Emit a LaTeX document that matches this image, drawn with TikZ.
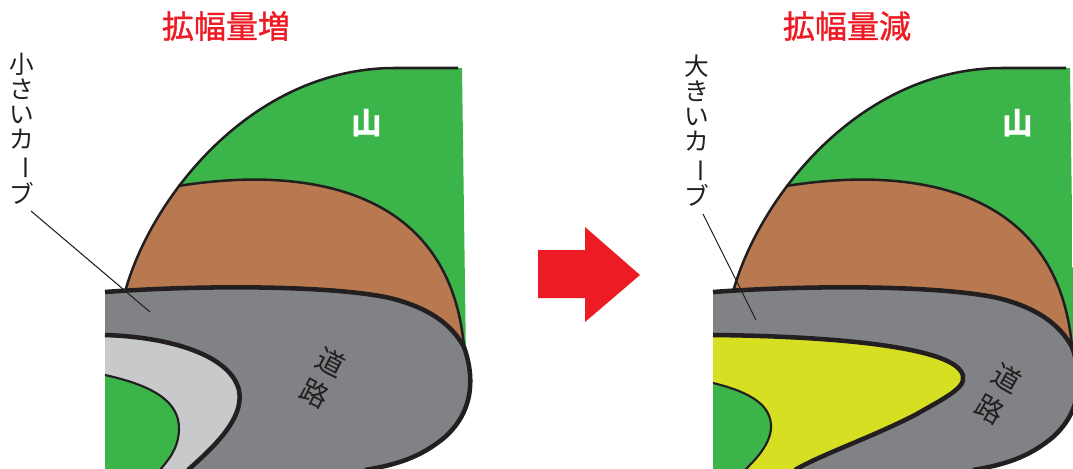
\documentclass[tikz,border=0pt]{standalone}
\usepackage{fontspec}
\usepackage{graphicx}
\newfontfamily\jp{Noto Sans CJK JP}
\newfontfamily\jpmid[FakeBold=1.1]{Noto Sans CJK JP}
\definecolor{mtgreen}{HTML}{3BB54A}
\definecolor{soil}{HTML}{B87950}
\definecolor{asphalt}{HTML}{808285}
\definecolor{shoulder}{HTML}{C8C9CB}
\definecolor{widen}{HTML}{D7DF23}
\definecolor{alert}{HTML}{ED1C24}
\definecolor{ink}{HTML}{231F20}

\tikzset{
  edge/.style={draw=ink, line width=1.9pt},
  roadedge/.style={draw=ink, line width=3.4pt},
  thinedge/.style={draw=ink, line width=1.6pt},
  leader/.style={draw=ink, line width=0.8pt},
  heading/.style={text=alert, inner sep=0pt, font=\jpmid\fontsize{24}{24}\selectfont},
  vlabel/.style={text=ink, align=center, inner sep=0pt, font=\jp\fontsize{18.5}{18.75}\selectfont},
  roadchar/.style={text=ink, inner sep=0pt, font=\jp\fontsize{21}{21}\selectfont},
  peak/.style={text=white, inner sep=0pt, font=\jp\bfseries\fontsize{23}{23}\selectfont},
}

% hill, cut slope and the outer road band shared by both panels
\newcommand{\hillroad}{%
  \begin{scope}
    \clip (125,292) .. controls (150,200) and (250,68) .. (395,68) -- (462,68)
          -- (466,360) -- (105,360) -- (105,292) -- cycle;
    \fill[mtgreen] (100,60) rectangle (470,360);
    \fill[soil] (178,186) .. controls (310,165) and (450,190) .. (464,347)
          -- (470,360) -- (100,360) -- (100,186) -- cycle;
  \end{scope}
  \draw[edge] (125,292) .. controls (150,200) and (250,68) .. (395,68) -- (458,68);
  \draw[edge] (178,186) .. controls (310,165) and (450,190) .. (464,347);
  \fill[asphalt] (105,292) .. controls (200,285) and (330,285) .. (390,298)
        .. controls (430,308) and (452,325) .. (464,347)
        .. controls (474,375) and (475,410) .. (445,437)
        .. controls (420,458) and (395,465) .. (365,470) -- (105,470) -- cycle;
  \draw[roadedge] (105,292) .. controls (200,285) and (330,285) .. (390,298)
        .. controls (430,308) and (452,325) .. (464,347)
        .. controls (474,375) and (475,410) .. (445,437)
        .. controls (420,458) and (395,465) .. (365,470);
}

\begin{document}
\begin{tikzpicture}[x=0.75pt, y=-0.75pt]
  \useasboundingbox (0,0) rectangle (1073,468);

  % ---------- left panel: small curve ----------
  \hillroad
  \fill[shoulder] (105,335) .. controls (170,337) and (230,355) .. (239,390)
        .. controls (245,420) and (210,450) .. (188,470) -- (105,470) -- cycle;
  \fill[mtgreen] (105,375) .. controls (150,385) and (180,400) .. (179,430)
        .. controls (178,450) and (168,460) .. (160,470) -- (105,470) -- cycle;
  \draw[roadedge] (105,335) .. controls (170,337) and (230,355) .. (239,390)
        .. controls (245,420) and (210,450) .. (188,470);
  \draw[thinedge] (105,375) .. controls (150,385) and (180,400) .. (179,430)
        .. controls (178,450) and (168,460) .. (160,470);

  \node[heading] (titleL) at (226,26) {拡幅量増};
  \node[peak] (hillL) at (367,123) {山};
  \node[roadchar, rotate=-27] (roadL1) at (331,362) {道};
  \node[roadchar, rotate=-27] (roadL2) at (315,393) {路};
  \node[vlabel, anchor=north] (curveL) at (22,53)
       {小\\さ\\い\\カ\\\rotatebox[origin=c]{-90}{ー}\\ブ};
  \coordinate (leadL1) at (31,211);
  \coordinate (leadL2) at (150,312);
  \draw[leader] (leadL1) -- (leadL2);

  % ---------- arrow ----------
  \fill[alert] (538,250) -- (585,250) -- (585,227) -- (640,275)
        -- (585,322) -- (585,298) -- (538,298) -- cycle;

  % ---------- right panel: large curve ----------
  \begin{scope}[shift={(608,0)}]
    \hillroad
  \end{scope}
  \fill[widen] (713,335) .. controls (820,336) and (940,345) .. (960,370)
        .. controls (972,385) and (950,395) .. (915,415)
        .. controls (870,438) and (820,455) .. (795,470) -- (713,470) -- cycle;
  \fill[mtgreen] (713,383) .. controls (750,392) and (772,405) .. (771,428)
        .. controls (770,445) and (755,460) .. (745,470) -- (713,470) -- cycle;
  \draw[roadedge] (713,335) .. controls (820,336) and (940,345) .. (960,370)
        .. controls (972,385) and (950,395) .. (915,415)
        .. controls (870,438) and (820,455) .. (795,470);
  \draw[thinedge] (713,383) .. controls (750,392) and (772,405) .. (771,428)
        .. controls (770,445) and (755,460) .. (745,470);

  \node[heading] (titleR) at (847,26) {拡幅量減};
  \node[peak] (hillR) at (1018,123) {山};
  \node[roadchar, rotate=-30] (roadR1) at (1007,378) {道};
  \node[roadchar, rotate=-30] (roadR2) at (990,409) {路};
  \node[vlabel, anchor=north] (curveR) at (697,55)
       {大\\き\\い\\カ\\\rotatebox[origin=c]{-90}{ー}\\ブ};
  \coordinate (leadR1) at (703,214);
  \coordinate (leadR2) at (756,320);
  \draw[leader] (leadR1) -- (leadR2);
\end{tikzpicture}
\end{document}
